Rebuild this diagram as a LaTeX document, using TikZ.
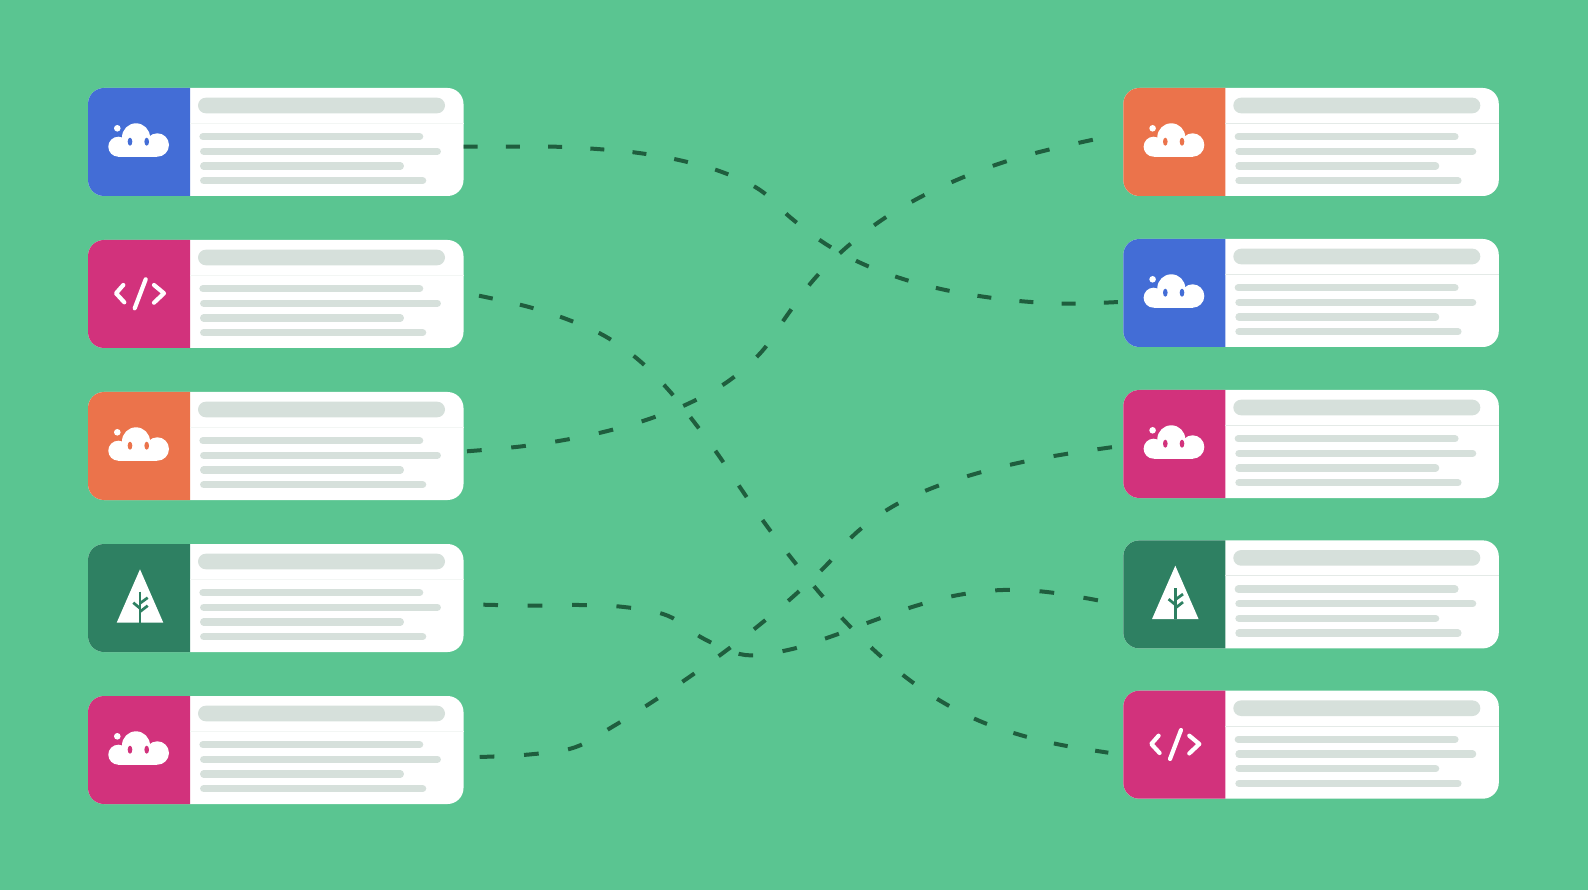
\documentclass[tikz,border=0pt]{standalone}
\usetikzlibrary{calc}
\definecolor{bgc}{HTML}{5AC591}
\definecolor{blueC}{HTML}{436DD6}
\definecolor{pinkC}{HTML}{D2327C}
\definecolor{orangeC}{HTML}{EB734B}
\definecolor{forestC}{HTML}{2E8062}
\definecolor{barC}{HTML}{D6E0DB}
\definecolor{dashC}{HTML}{1F5E3E}
\definecolor{faintC}{HTML}{F3F6F4}
\definecolor{ruleC}{HTML}{E4EAE7}
\tikzset{
  x=1pt,y=-1pt,
  cardbox/.style={anchor=north west,fill=white,inner sep=0pt,outer sep=0pt,minimum width=375.5pt,minimum height=108pt,rounded corners=16pt},
  textbar/.style={line width=7.3pt,line cap=round,draw=barC},
  iconline/.style={line width=4.2pt,line cap=round,line join=round,draw=white},
  treeline/.style={line width=2.7pt,draw=forestC},
  flowA/.style={draw=dashC,line width=4pt,dash pattern=on 14pt off 28.3pt},
  flowC/.style={draw=dashC,line width=4pt,dash pattern=on 14pt off 27.9pt},
  flowB/.style={draw=dashC,line width=4pt,dash pattern=on 14.7pt off 29.7pt}
}
\newcommand{\cloudicon}{%
  \fill[white] (48,49.3) circle [radius=14];
  \fill[white] (69.3,57) circle [radius=11.7];
  \fill[white] (30.3,58.7) circle [radius=10];
  \fill[white] (30.3,55) rectangle (69.3,68.7);
  \fill[white] (29.3,40.3) circle [radius=3.3];
  \fill[cardc] (42,53.7) ellipse [x radius=2.3,y radius=4];
  \fill[cardc] (58.7,53.7) ellipse [x radius=2.3,y radius=4];
}
\newcommand{\codeicon}{%
  \draw[iconline] (35.3,45) -- (28,53.3) -- (36.3,62.3);
  \draw[iconline] (57.7,39.3) -- (46.7,68.3);
  \draw[iconline] (66,45) -- (76,53.3) -- (66,62.7);
}
\newcommand{\treeicon}{%
  \fill[white] (52,25.3) -- (28.7,78.7) -- (75.3,78.7) -- cycle;
  \draw[treeline] (52,47.7) -- (52,78.7);
  \draw[treeline] (52,59.3) -- (59.7,53.7);
  \draw[treeline] (52,67.7) -- (59.7,61.7);
  \draw[treeline] (52,64.3) -- (45.3,58.7);
}
% name, x, y, colour, icon, divider colour
\newcommand{\card}[6]{%
  \begin{scope}[shift={(#2,#3)}]
    \colorlet{cardc}{#4}
    \node[cardbox] (#1) at (0,0) {};
    \begin{scope}
      \clip (0,0) rectangle (102,108);
      \fill[cardc,rounded corners=16pt] (0,0) rectangle (140,108);
    \end{scope}
    \draw[#6,line width=1pt] (102,35.3) -- (375.5,35.3);
    \fill[barC,rounded corners=7.8pt] (110,9.7) rectangle (357,25.3);
    \draw[textbar] (115,48.7) -- (331.6,48.7);
    \draw[textbar] (115.7,63.3) -- (349.3,63.3);
    \draw[textbar] (115.7,78) -- (312.3,78);
    \draw[textbar] (115.7,92.7) -- (334.6,92.7);
    #5
  \end{scope}
}
\begin{document}
\begin{tikzpicture}
\useasboundingbox (0,0) rectangle (1588,890);
\fill[bgc] (0,0) rectangle (1588,890);

\card{L1}{88}{88}{blueC}{\cloudicon}{faintC}
\card{L2}{88}{240}{pinkC}{\codeicon}{faintC}
\card{L3}{88}{392}{orangeC}{\cloudicon}{faintC}
\card{L4}{88}{544}{forestC}{\treeicon}{faintC}
\card{L5}{88}{696}{pinkC}{\cloudicon}{faintC}
\card{R1}{1123.3}{88}{orangeC}{\cloudicon}{ruleC}
\card{R2}{1123.3}{239}{blueC}{\cloudicon}{ruleC}
\card{R3}{1123.3}{390}{pinkC}{\cloudicon}{ruleC}
\card{R4}{1123.3}{540.4}{forestC}{\treeicon}{ruleC}
\card{R5}{1123.3}{690.7}{pinkC}{\codeicon}{ruleC}

\coordinate (s1) at ($(L1.east)+(0,4.7)$);
\coordinate (s2) at ($(L2.east)+(15.5,1.7)$);
\coordinate (s3) at ($(L3.east)+(3.5,5.3)$);
\coordinate (s4) at ($(L4.east)+(19.8,6.7)$);
\coordinate (s5) at ($(L5.east)+(16.2,7)$);
\coordinate (e1) at ($(R2.west)+(-4.3,9)$);
\coordinate (e2) at ($(R5.west)+(-15,8)$);
\coordinate (e3) at ($(R1.west)+(-29.3,-2.5)$);
\coordinate (e4) at ($(R4.west)+(-25,6)$);
\coordinate (e5) at ($(R3.west)+(-10,3)$);

\draw[flowA] plot[smooth,tension=.6] coordinates {(s1) (512,146.7) (555,146.7) (597,149) (639,153) (681,160.5) (722,172) (760,190) (791,218) (825.7,244) (863,264) (903,279) (944,289.7) (985.7,297) (1027,301.7) (1070,303.7) (e1)};
\draw[flowC] plot[smooth,tension=.6] coordinates {(s2) (526.3,306.3) (566.3,319) (604.7,336) (638.7,360) (668.3,389.7) (694.3,422.3) (718.7,455.5) (742.3,490.7) (766.3,525.3) (791.5,558.3) (818,591) (846,622.3) (875.7,651.7) (907.7,678.7) (942.3,702) (979.7,721) (1019.3,734.7) (1060,744.7) (e2)};
\draw[flowB] plot[smooth,tension=.6] coordinates {(s3) (518.7,446.7) (562.7,440.3) (606.3,431.3) (649,419) (690.3,402.7) (729,380.7) (762,351.3) (787.3,315) (814,279.3) (845.7,248) (880.7,220.7) (918.7,198) (959,179) (1000.3,163.3) (1043.3,151) (e3)};
\draw[flowB] plot[smooth,tension=.6] coordinates {(s4) (535.3,605.7) (579.3,605) (624,607) (667.7,615.7) (704.7,639.3) (745.3,655) (789.3,649.7) (831.7,636.3) (873.3,620.7) (915.3,606) (958.3,595) (1002.7,590) (1047,592) (e4)};
\draw[flowB] plot[smooth,tension=.6] coordinates {(s5) (531.3,754.3) (575,747.3) (613.7,726) (651.7,702.3) (688.3,677.7) (724.7,651.7) (759.7,624.7) (794,595.8) (826.3,565.3) (856.3,532.7) (892.3,506.7) (932.3,488) (974.7,474) (1018,463) (1061.7,454.7) (e5)};
\end{tikzpicture}
\end{document}
